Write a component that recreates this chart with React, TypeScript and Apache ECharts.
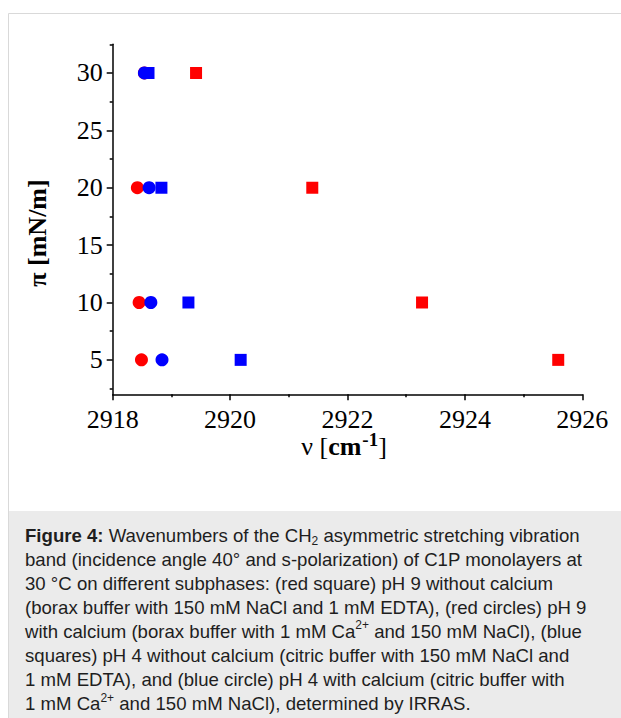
import React, { useEffect, useRef } from "react";
import * as echarts from "echarts";

// ---- data ----
const xTickValues = [2918, 2920, 2922, 2924, 2926];
const yTickValues = [5, 10, 15, 20, 25, 30];
const yMinorTickValues = [2.5, 7.5, 12.5, 17.5, 22.5, 27.5, 32.5];
const pressures = [30, 20, 10, 5];
// pH 9 without calcium (red squares)
const redSquares = [2919.42, 2921.4, 2923.27, 2925.59];
// pH 9 with calcium (red circles)
const redCircles = [2918.54, 2918.42, 2918.45, 2918.49];
// pH 4 without calcium (blue squares)
const blueSquares = [2918.61, 2918.83, 2919.29, 2920.18];
// pH 4 with calcium (blue circles)
const blueCircles = [2918.54, 2918.62, 2918.65, 2918.84];

const captionLines = [
  "{b|Figure 4:} Wavenumbers of the CH{sub|2} asymmetric stretching vibration",
  "band (incidence angle 40° and s-polarization) of C1P monolayers at",
  "30 °C on different subphases: (red square) pH 9 without calcium",
  "(borax buffer with 150 mM NaCl and 1 mM EDTA), (red circles) pH 9",
  "with calcium (borax buffer with 1 mM Ca{sup|2+} and 150 mM NaCl), (blue",
  "squares) pH 4 without calcium (citric buffer with 150 mM NaCl and",
  "1 mM EDTA), and (blue circle) pH 4 with calcium (citric buffer with",
  "1 mM Ca{sup|2+} and 150 mM NaCl), determined by IRRAS.",
];

const SERIF = "'Liberation Serif', 'Times New Roman', serif";
const SANS = "'Liberation Sans', Arial, sans-serif";

const pairs = (xs: number[]) => xs.map((x, i) => [x, pressures[i]]);

export default function App() {
  const ref = useRef<HTMLDivElement>(null);
  useEffect(() => {
    if (!ref.current) return;
    const chart = echarts.init(ref.current, undefined, { renderer: "svg" });
    const axisLineStyle = { color: "#000", width: 1.5 };
    const capFont = 18.6;
    const capColor = "#1e1e1e";
    const capRich = {
      b: { fontWeight: "bold" as const, fontSize: capFont, fontFamily: SANS, fill: capColor, lineHeight: 24 },
      sub: { fontSize: 12, fontFamily: SANS, fill: capColor, verticalAlign: "bottom" as const, lineHeight: 14 },
      sup: { fontSize: 12, fontFamily: SANS, fill: capColor, verticalAlign: "top" as const, lineHeight: 15 },
    };
    const mk = (color: string) => ({ color, opacity: 1 });
    chart.setOption({
      animation: false,
      backgroundColor: "#fff",
      grid: { left: 112.7, right: 38.7, top: 44.3, bottom: 323.7 },
      xAxis: {
        type: "value",
        min: xTickValues[0],
        max: xTickValues[xTickValues.length - 1],
        interval: 2,
        axisLine: { show: true, lineStyle: axisLineStyle },
        axisTick: { show: true, length: 6, lineStyle: axisLineStyle },
        minorTick: { show: true, splitNumber: 2, length: 3, lineStyle: axisLineStyle },
        splitLine: { show: false },
        minorSplitLine: { show: false },
        axisLabel: {
          color: "#000",
          fontFamily: SERIF,
          fontSize: 26,
          margin: 12,
          formatter: (v: number) => String(v),
        },
      },
      yAxis: [
        {
          type: "value",
          min: 2,
          max: 32.5,
          axisLine: { show: true, lineStyle: axisLineStyle },
          axisTick: { show: true, length: 6, lineStyle: axisLineStyle, customValues: yTickValues },
          axisLabel: { color: "#000", fontFamily: SERIF, fontSize: 26, margin: 10, customValues: yTickValues },
          splitLine: { show: false },
        },
        {
          type: "value",
          min: 2,
          max: 32.5,
          position: "left",
          axisLine: { show: false },
          axisTick: { show: true, length: 3, lineStyle: axisLineStyle, customValues: yMinorTickValues },
          axisLabel: { show: false },
          splitLine: { show: false },
        },
      ],
      series: [
        { type: "scatter", name: "pH 9 without calcium", symbol: "rect", symbolSize: 12, itemStyle: mk("#ff0000"), data: pairs(redSquares) },
        { type: "scatter", name: "pH 9 with calcium", symbol: "circle", symbolSize: 13, itemStyle: mk("#ff0000"), data: pairs(redCircles) },
        { type: "scatter", name: "pH 4 without calcium", symbol: "rect", symbolSize: 12, itemStyle: mk("#0000ff"), data: pairs(blueSquares) },
        { type: "scatter", name: "pH 4 with calcium", symbol: "circle", symbolSize: 13, itemStyle: mk("#0000ff"), data: pairs(blueCircles) },
      ],
      graphic: [
        {
          type: "rect",
          silent: true,
          shape: { x: 8.5, y: 13.5, width: 700, height: 800 },
          style: { fill: "none", stroke: "#d9d9d9", lineWidth: 1 },
        },
        {
          type: "rect",
          silent: true,
          shape: { x: 9, y: 511, width: 620, height: 220 },
          style: { fill: "#ebebeb" },
        },
        {
          type: "text",
          silent: true,
          x: 37,
          y: 233,
          rotation: Math.PI / 2,
          style: {
            text: "π [mN/m]",
            align: "center",
            verticalAlign: "middle",
            fontFamily: SERIF,
            fontWeight: "bold",
            fontSize: 26,
            fill: "#000",
          },
        },
        {
          type: "text",
          silent: true,
          x: 344,
          y: 446,
          style: {
            text: "{n|ν [}{b|cm}{s|-1}{n|]}",
            align: "center",
            verticalAlign: "middle",
            fontFamily: SERIF,
            fontSize: 26,
            fill: "#000",
            rich: {
              n: { fontFamily: SERIF, fontSize: 26, fill: "#000", lineHeight: 32 },
              b: { fontFamily: SERIF, fontSize: 26, fontWeight: "bold", fill: "#000", lineHeight: 32 },
              s: { fontFamily: SERIF, fontSize: 19, fontWeight: "bold", fill: "#000", verticalAlign: "top", lineHeight: 14, padding: [0, 0, 0, 1] },
            },
          },
        },
        ...captionLines.map((line, i) => ({
          type: "text",
          silent: true,
          x: 25,
          y: 535 + i * 24.1,
          style: {
            text: line,
            align: "left",
            verticalAlign: "middle",
            fontFamily: SANS,
            fontSize: capFont,
            fill: capColor,
            lineHeight: 24,
            rich: capRich,
          },
        })),
      ],
    });
    return () => chart.dispose();
  }, []);
  return <div ref={ref} style={{ position: "absolute", left: 0, top: 0, width: 621, height: 718 }} />;
}
